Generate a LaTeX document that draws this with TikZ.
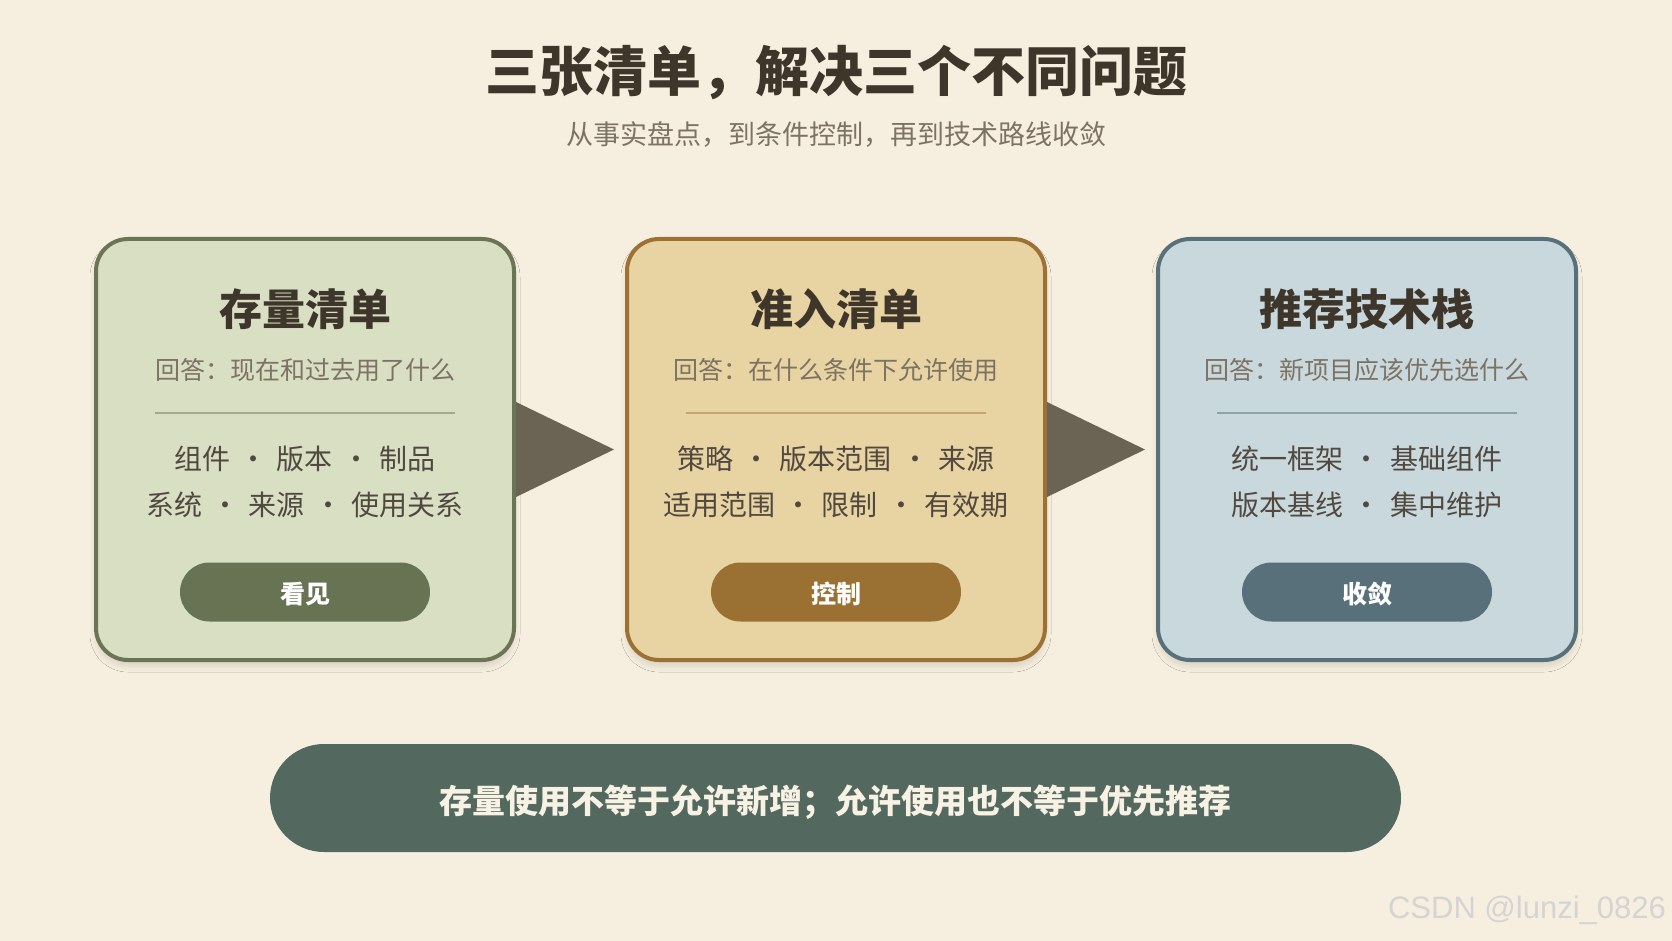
\documentclass[tikz,border=0pt]{standalone}
\usepackage{fontspec}
\setmainfont{Noto Sans CJK SC}
\newfontfamily\wmfont{Liberation Sans}
\usetikzlibrary{shapes.misc,shadows.blur}

% 颜色
\definecolor{hinter}{HTML}{F6EFDF}
\definecolor{tinte}{HTML}{3E352B}
\definecolor{grau}{HTML}{7D7263}
\definecolor{pfeilc}{HTML}{6B6353}
\definecolor{bandc}{HTML}{536960}
\definecolor{fillA}{HTML}{D8DFC3}\definecolor{randA}{HTML}{6B7556}
\definecolor{pillA}{HTML}{687353}\definecolor{teilA}{HTML}{A3AA8C}
\definecolor{fillB}{HTML}{E8D3A2}\definecolor{randB}{HTML}{9C7133}
\definecolor{pillB}{HTML}{9A7132}\definecolor{teilB}{HTML}{C8A570}
\definecolor{fillC}{HTML}{C9D8DC}\definecolor{randC}{HTML}{587079}
\definecolor{pillC}{HTML}{58707A}\definecolor{teilC}{HTML}{8DA2AA}

\newcommand{\dt}{\makebox[1.65em]{·}}

\begin{document}
\begin{tikzpicture}[x=1pt, y=-1pt,
    karte/.style={draw, rounded corners=32pt, line width=4pt,
        minimum width=418pt, minimum height=421pt, inner sep=0pt,
        blur shadow={shadow xshift=0pt, shadow yshift=-6pt,
            shadow blur radius=6pt, shadow blur steps=6, shadow opacity=12}},
    kopf/.style={text=tinte, font=\fontsize{43}{43}\selectfont\bfseries},
    frage/.style={text=grau, font=\fontsize{25}{25}\selectfont},
    zeile/.style={text=tinte!90, font=\fontsize{28}{28}\selectfont},
    pille/.style={rounded rectangle, minimum width=250pt, minimum height=59pt,
        inner sep=0pt, text height=23pt, text depth=0pt, text=white,
        font=\fontsize{25}{25}\selectfont\bfseries}]

    % Hintergrund
    \useasboundingbox (0,0) rectangle (1672,941);
    \fill[hinter] (0,0) rectangle (1672,941);

    % 标题
    \node[text=tinte, font=\fontsize{54}{54}\selectfont\bfseries] (titel) at (836,72.5)
        {三张清单，解决三个不同问题};
    \node[text=grau, font=\fontsize{27}{27}\selectfont] (untertitel) at (836,134)
        {从事实盘点，到条件控制，再到技术路线收敛};

    % 三张卡片
    \foreach \n/\cx/\titel/\antwort/\zA/\zB/\tag in {
        A/305/存量清单/回答：现在和过去用了什么/组件\dt 版本\dt 制品/系统\dt 来源\dt 使用关系/看见,
        B/836/准入清单/回答：在什么条件下允许使用/策略\dt 版本范围\dt 来源/适用范围\dt 限制\dt 有效期/控制,
        C/1367/推荐技术栈/回答：新项目应该优先选什么/统一框架\dt 基础组件/版本基线\dt 集中维护/收敛}
    {
        \node[karte, draw=rand\n, fill=fill\n] (k\n) at (\cx,449.5) {};
        \node[kopf] (t\n) at (\cx,309) {\titel};
        \node[frage] (f\n) at (\cx,370) {\antwort};
        \draw[teil\n, line width=2pt] (\cx-150,413) -- (\cx+150,413);
        \node[zeile] (z\n) at (\cx,458.5) {\zA};
        \node[zeile] (w\n) at (\cx,505) {\zB};
        \node[pille, fill=pill\n] (p\n) at (\cx,592) {\tag};
    }

    % 箭头
    \fill[pfeilc] ([yshift=47.5pt]kA.east) -- ([xshift=-11pt]kB.west)
        -- ([yshift=-47.5pt]kA.east) -- cycle;
    \fill[pfeilc] ([yshift=47.5pt]kB.east) -- ([xshift=-11pt]kC.west)
        -- ([yshift=-47.5pt]kB.east) -- cycle;

    % 结论
    \node[rounded rectangle, fill=bandc, minimum width=1131pt, minimum height=108pt,
        inner sep=0pt, text height=31pt, text depth=0pt, text=hinter!80!white,
        font=\fontsize{33}{33}\selectfont\bfseries]
        (band) at (835.5,798) {存量使用不等于允许新增；允许使用也不等于优先推荐};

    % 水印
    \node[text=black!17, font=\wmfont\fontsize{31}{31}\selectfont] (wm) at (1527,910)
        {CSDN @lunzi\_0826};
\end{tikzpicture}
\end{document}
